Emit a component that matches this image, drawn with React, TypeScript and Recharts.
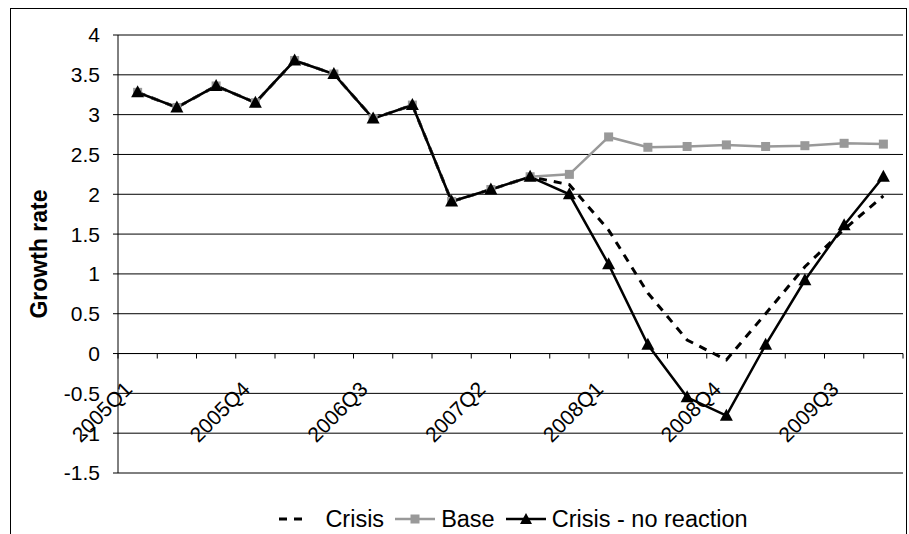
import {
  CartesianGrid,
  Legend,
  Line,
  LineChart,
  ReferenceLine,
  XAxis,
  YAxis,
} from "recharts";

const quarters = [
  "2005Q1", "2005Q2", "2005Q3", "2005Q4",
  "2006Q1", "2006Q2", "2006Q3", "2006Q4",
  "2007Q1", "2007Q2", "2007Q3", "2007Q4",
  "2008Q1", "2008Q2", "2008Q3", "2008Q4",
  "2009Q1", "2009Q2", "2009Q3", "2009Q4",
];

const crisis = [
  3.28, 3.09, 3.36, 3.15, 3.68, 3.51, 2.95, 3.12, 1.91, 2.06,
  2.22, 2.12, 1.55, 0.76, 0.17, -0.08, 0.5, 1.09, 1.56, 1.98,
];
const base = [
  3.28, 3.09, 3.36, 3.15, 3.68, 3.51, 2.95, 3.12, 1.91, 2.06,
  2.22, 2.25, 2.72, 2.59, 2.6, 2.62, 2.6, 2.61, 2.64, 2.63,
];
const noReaction = [
  3.28, 3.09, 3.36, 3.15, 3.68, 3.51, 2.95, 3.12, 1.91, 2.06,
  2.22, 2.0, 1.12, 0.11, -0.55, -0.78, 0.11, 0.92, 1.61, 2.22,
];

const yTicks = [-1.5, -1, -0.5, 0, 0.5, 1, 1.5, 2, 2.5, 3, 3.5, 4];

const legendOrder = ["crisis", "base", "noReaction"];

const data = quarters.map((q, i) => ({
  q,
  crisis: crisis[i],
  base: base[i],
  noReaction: noReaction[i],
}));

// layout
const W = 909;
const H = 534;
const margin = { top: 35, right: 6, left: 58, bottom: 0 };
const Y_W = 60;
const LEGEND_H = 30;
const XAXIS_H = 31;
const plotTop = margin.top;
const plotH = H - margin.top - margin.bottom - LEGEND_H - XAXIS_H;
const plotW = W - margin.left - Y_W - margin.right;
const zeroY = plotTop + (plotH * 4) / 5.5;
const halfBand = plotW / quarters.length / 2;

const font = "'Liberation Sans', Arial, sans-serif";
const GRAY = "#999999";

const XTick = (props: any) => {
  const { x, index } = props;
  const tx = x - 4;
  const ty = zeroY + 37;
  return (
    <g>
      <line x1={x - halfBand} x2={x - halfBand} y1={zeroY} y2={zeroY + 5} stroke="#000" />
      {index === quarters.length - 1 && (
        <line x1={x + halfBand} x2={x + halfBand} y1={zeroY} y2={zeroY + 5} stroke="#000" />
      )}
      {index % 3 === 0 && (
        <text
          x={tx}
          y={ty}
          textAnchor="end"
          fontFamily={font}
          fontSize={21}
          fill="#000"
          transform={`rotate(-45, ${tx}, ${ty})`}
        >
          {props.payload.value}
        </text>
      )}
    </g>
  );
};

const Square = (props: any) => {
  const { cx, cy, index } = props;
  if (cx == null || cy == null) return <g key={index} />;
  return <rect key={index} x={cx - 4.5} y={cy - 4.5} width={9} height={9} fill={GRAY} />;
};

const Triangle = (props: any) => {
  const { cx, cy, index } = props;
  if (cx == null || cy == null) return <g key={index} />;
  return (
    <polygon
      key={index}
      points={`${cx},${cy - 7} ${cx - 6.5},${cy + 5} ${cx + 6.5},${cy + 5}`}
      fill="#000"
    />
  );
};

const YLabel = (props: any) => {
  const vb = props.viewBox || {};
  const cx = 39;
  const cy = (vb.y ?? plotTop) + (vb.height ?? plotH) / 2;
  return (
    <text
      x={cx}
      y={cy}
      textAnchor="middle"
      dominantBaseline="central"
      fontFamily={font}
      fontSize={23}
      fontWeight="bold"
      fill="#000"
      transform={`rotate(-90, ${cx}, ${cy})`}
    >
      Growth rate
    </text>
  );
};

const sample = (key: string) => {
  if (key === "crisis")
    return <line x1={0} x2={23} y1={9} y2={9} stroke="#000" strokeWidth={3} strokeDasharray="8 7" />;
  if (key === "base")
    return (
      <g>
        <line x1={0} x2={40} y1={9} y2={9} stroke={GRAY} strokeWidth={2.5} />
        <rect x={15.5} y={4.5} width={9} height={9} fill={GRAY} />
      </g>
    );
  return (
    <g>
      <line x1={0} x2={40} y1={9} y2={9} stroke="#000" strokeWidth={2.5} />
      <polygon points="20,3 14,14 26,14" fill="#000" />
    </g>
  );
};

const LegendContent = (props: any) => {
  const items = [...(props.payload || [])].sort(
    (a: any, b: any) => legendOrder.indexOf(a.dataKey) - legendOrder.indexOf(b.dataKey)
  );
  return (
    <div
      style={{
        display: "flex",
        justifyContent: "center",
        alignItems: "center",
        height: LEGEND_H,
        paddingLeft: 66,
        fontFamily: font,
        fontSize: 23.5,
        color: "#000",
      }}
    >
      {items.map((it: any, i: number) => (
        <span
          key={it.dataKey}
          style={{ display: "inline-flex", alignItems: "center", marginLeft: i === 0 ? 0 : 11 }}
        >
          <svg width={40} height={18} style={{ marginRight: 6 }}>
            {sample(it.dataKey)}
          </svg>
          <span>{it.value}</span>
        </span>
      ))}
    </div>
  );
};

export default function App() {
  return (
    <div style={{ position: "absolute", left: 0, top: 0, width: W, height: H, overflow: "hidden", background: "#fff" }}>
      <div
        style={{
          position: "absolute",
          left: 10,
          top: 8,
          width: 895,
          height: 600,
          border: "1px solid #000",
        }}
      />
      <div style={{ position: "absolute", left: 0, top: 0 }}>
        <LineChart width={W} height={H} data={data} margin={margin}>
          <CartesianGrid vertical={false} stroke="#000" strokeWidth={1} />
          <XAxis
            dataKey="q"
            height={XAXIS_H}
            axisLine={false}
            tickLine={false}
            interval={0}
            padding={{ left: halfBand, right: halfBand }}
            tick={<XTick />}
          />
          <YAxis
            width={Y_W}
            domain={[-1.5, 4]}
            ticks={yTicks}
            interval={0}
            axisLine={{ stroke: "#000" }}
            tickLine={{ stroke: "#000" }}
            tickSize={5}
            tickMargin={13}
            tick={{ fontFamily: font, fontSize: 21, fill: "#000" }}
            label={<YLabel />}
          />
          <YAxis
            yAxisId="right"
            orientation="right"
            width={0}
            domain={[-1.5, 4]}
            tick={false}
            tickLine={false}
            axisLine={{ stroke: "#000" }}
          />
          <ReferenceLine y={0} stroke="#000" />
          <Legend verticalAlign="bottom" height={LEGEND_H} content={<LegendContent />} />
          <Line
            dataKey="crisis"
            name="Crisis"
            stroke="#000"
            strokeWidth={3}
            strokeDasharray="8 7"
            dot={false}
            isAnimationActive={false}
          />
          <Line
            dataKey="base"
            name="Base"
            stroke={GRAY}
            strokeWidth={2.5}
            dot={Square}
            activeDot={false}
            isAnimationActive={false}
          />
          <Line
            dataKey="noReaction"
            name="Crisis - no reaction"
            stroke="#000"
            strokeWidth={2.5}
            dot={Triangle}
            activeDot={false}
            isAnimationActive={false}
          />
        </LineChart>
      </div>
    </div>
  );
}
